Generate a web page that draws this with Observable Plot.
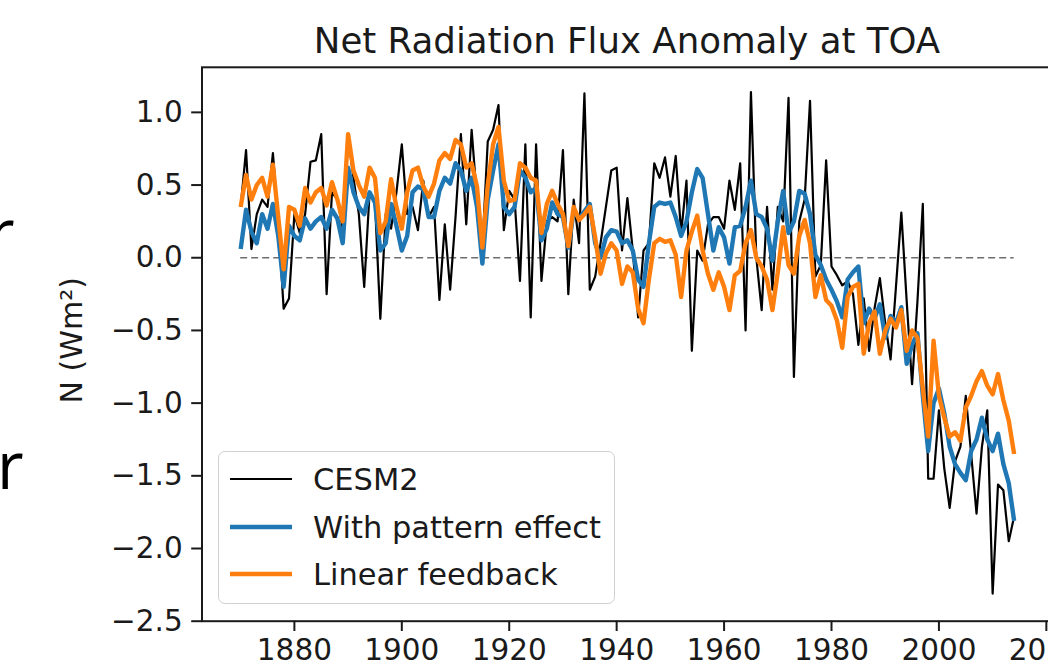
<!DOCTYPE html>
<html>
<head>
<meta charset="utf-8">
<script src="https://cdn.jsdelivr.net/npm/d3@7"></script>
<script src="https://cdn.jsdelivr.net/npm/@observablehq/plot@0.6"></script>
<style>
html, body { margin: 0; padding: 0; background: #fff; overflow: hidden; }
#wrap { position: relative; width: 1048px; height: 666px; overflow: hidden; font-family: "DejaVu Sans", sans-serif; }
#title { position: absolute; left: 227px; width: 800px; top: 23px; text-align: center; font-size: 35.6px; line-height: 35px; color: #1a1a1a; white-space: nowrap; }
#legend { position: absolute; left: 218px; top: 451px; width: 395px; height: 151px; border: 1.5px solid #d0d0d0; border-radius: 7px; background: rgba(255,255,255,0.85); }
.row { position: absolute; left: 0; height: 40px; display: flex; align-items: center; }
.row svg { margin-left: 10px; }
.row span { margin-left: 20px; font-size: 30.5px; color: #1a1a1a; white-space: nowrap; }
.frag { position: absolute; font-family: "Open Sans", sans-serif; font-size: 65px; line-height: 65px; color: #000; }
</style>
</head>
<body>
<div id="wrap">
  <div class="frag" style="left:-12px; top:199px;">r</div>
  <div class="frag" style="left:-3px; top:432px;">r</div>
  <div id="title"></div>
  <div id="chart"></div>
  <div id="legend"></div>
</div>
<script>
// ---- data (annual values 1870–2014) ----
const startYear = 1870;
const cesm2 = [
  0.35, 0.74, 0.06, 0.30, 0.40, 0.35, 0.72, 0.25, -0.35, -0.28,
  0.30, 0.17, 0.30, 0.66, 0.67, 0.85, -0.25, 0.45, 0.40, 0.20,
  0.83, 0.55, 0.30, -0.20, 0.45, 0.38, -0.42, 0.30, 0.20, 0.45,
  0.78, 0.30, 0.35, 0.19, 0.53, 0.28, 0.35, -0.29, 0.23, -0.22,
  0.28, 0.85, 0.23, 0.88, 0.40, 0.07, 0.80, 0.88, 1.05, 0.19,
  0.46, 0.40, -0.16, 0.78, -0.41, 0.78, -0.16, 0.25, 0.28, 0.25,
  0.74, -0.25, 0.40, 0.10, 1.13, -0.22, -0.13, 0.10, 0.35, 0.60,
  0.62, 0.05, 0.41, 0.05, -0.41, 0.05, 0.10, 0.65, 0.55, 0.69,
  0.42, 0.70, 0.17, 0.53, -0.64, 0.05, -0.02, 0.23, 0.28, 0.28,
  0.20, 0.53, 0.33, 0.65, -0.50, 1.14, 0.00, -0.36, 0.35, -0.22,
  0.35, 0.25, 1.10, -0.82, 0.25, 0.40, 1.08, -0.13, -0.05, 0.67,
  -0.06, -0.12, -0.19, -0.16, -0.25, -0.60, -0.28, -0.64, -0.35, -0.14,
  -0.45, -0.70, -0.20, 0.31, -0.30, -0.87, -0.30, 0.37, -1.52, -1.52,
  -1.05, -1.45, -1.72, -1.40, -1.30, -0.95, -1.35, -1.76, -1.30, -1.05,
  -2.31, -1.56, -1.60, -1.95, -1.78
];
const withPatternEffect = [
  0.06, 0.33, 0.18, 0.10, 0.30, 0.20, 0.37, 0.15, -0.20, 0.22,
  0.15, 0.12, 0.27, 0.20, 0.25, 0.28, 0.20, 0.33, 0.27, 0.10,
  0.62, 0.45, 0.35, 0.30, 0.45, 0.38, 0.05, 0.10, 0.37, 0.22,
  0.05, 0.15, 0.45, 0.49, 0.47, 0.28, 0.28, 0.46, 0.55, 0.51,
  0.65, 0.60, 0.46, 0.55, 0.35, -0.04, 0.40, 0.60, 0.78, 0.35,
  0.30, 0.35, 0.60, 0.55, 0.45, 0.48, 0.12, 0.20, 0.38, 0.30,
  0.28, 0.07, 0.32, 0.27, 0.32, 0.37, 0.10, 0.00, 0.14, 0.19,
  0.18, 0.10, 0.12, 0.05, -0.15, -0.20, 0.10, 0.35, 0.38, 0.37,
  0.38, 0.28, 0.15, 0.25, 0.45, 0.61, 0.55, 0.30, 0.05, 0.21,
  0.14, -0.04, 0.21, 0.22, 0.35, 0.53, 0.30, 0.28, 0.20, -0.02,
  0.25, 0.46, 0.17, 0.25, 0.46, 0.44, 0.30, 0.02, -0.05, -0.15,
  -0.22, -0.30, -0.41, -0.15, -0.10, -0.06, -0.45, -0.35, -0.42, -0.32,
  -0.55, -0.40, -0.45, -0.34, -0.73, -0.60, -0.52, -0.95, -1.33, -1.00,
  -0.90, -1.07, -1.30, -1.42, -1.48, -1.53, -1.33, -1.25, -1.10, -1.25,
  -1.33, -1.21, -1.42, -1.55, -1.81
];
const linearFeedback = [
  0.35, 0.57, 0.40, 0.50, 0.55, 0.42, 0.64, 0.28, -0.08, 0.35,
  0.33, 0.22, 0.48, 0.38, 0.45, 0.48, 0.36, 0.52, 0.40, 0.25,
  0.85, 0.60, 0.50, 0.42, 0.62, 0.55, 0.17, 0.25, 0.54, 0.35,
  0.20, 0.45, 0.60, 0.62, 0.49, 0.42, 0.51, 0.67, 0.72, 0.68,
  0.81, 0.78, 0.62, 0.65, 0.49, 0.07, 0.50, 0.78, 0.90, 0.53,
  0.39, 0.40, 0.65, 0.62, 0.55, 0.53, 0.17, 0.37, 0.46, 0.37,
  0.30, 0.08, 0.35, 0.26, 0.30, 0.35, 0.14, -0.11, 0.03, 0.10,
  0.05, -0.18, -0.06, -0.10, -0.35, -0.45, -0.15, 0.10, 0.13, 0.11,
  0.12, 0.02, -0.27, 0.05, 0.18, 0.29, 0.05, -0.11, -0.22, -0.10,
  -0.20, -0.36, -0.12, -0.09, 0.10, 0.19, 0.00, -0.06, -0.15, -0.36,
  -0.10, 0.21, -0.05, -0.11, 0.15, 0.26, 0.10, -0.27, -0.12, -0.29,
  -0.33, -0.43, -0.62, -0.27, -0.20, -0.18, -0.66, -0.45, -0.37, -0.66,
  -0.50, -0.42, -0.48, -0.36, -0.64, -0.50, -0.55, -0.90, -1.23, -0.57,
  -0.95, -1.10, -1.23, -1.20, -1.26, -1.03, -0.95, -0.85, -0.78, -0.88,
  -0.94, -0.80, -0.98, -1.12, -1.35
];
const seriesNames = ["CESM2", "With pattern effect", "Linear feedback"];
const seriesColors = ["#000000", "#1f77b4", "#ff7f0e"];
const seriesWidths = [2.2, 4.4, 4.4];
const xTicks = [1880, 1900, 1920, 1940, 1960, 1980, 2000, 2020];
const yTicks = [-2.5, -2.0, -1.5, -1.0, -0.5, 0.0, 0.5, 1.0];
const titleText = "Net Radiation Flux Anomaly at TOA";
const yLabel = "N (Wm²)";

// ---- build ----
const allSeries = [cesm2, withPatternEffect, linearFeedback];
const years = cesm2.map((_, i) => startYear + i);
const rowsFor = (k) => allSeries[k].map((v, i) => ({year: years[i], value: v, series: seriesNames[k]}));

const lineMark = (k) => Plot.line(rowsFor(k), {
  x: "year", y: "value", stroke: seriesColors[k], strokeWidth: seriesWidths[k],
  strokeLinejoin: "round", strokeLinecap: "butt"
});

const chart = Plot.plot({
  width: 1048,
  height: 666,
  marginLeft: 201.5,
  marginRight: -4.3,
  marginTop: 66.8,
  marginBottom: 45.3,
  style: {fontFamily: "DejaVu Sans, sans-serif", color: "#1a1a1a", background: "transparent", overflow: "visible"},
  x: {domain: [1862.8, 2021.2]},
  y: {domain: [-2.5, 1.31]},
  marks: [
    Plot.ruleY([0], {x1: years[0], x2: years[years.length - 1], stroke: "#6e6e6e", strokeWidth: 1.5, strokeDasharray: "7,4"}),
    lineMark(0),
    lineMark(1),
    lineMark(2),
    Plot.frame({stroke: "#1a1a1a", strokeWidth: 2}),
    Plot.axisX(xTicks, {tickSize: 10.3, tickPadding: 8, strokeWidth: 2, fontSize: 29.5, tickFormat: d => String(d), label: null}),
    Plot.axisY(yTicks, {tickSize: 10.3, tickPadding: 9, strokeWidth: 2, fontSize: 29.5, tickFormat: d3.format(".1f"), label: null}),
    Plot.text([yLabel], {frameAnchor: "left", textAnchor: "middle", lineAnchor: "middle", rotate: -90, dx: -130, dy: -4, fontSize: 30, fill: "#1a1a1a"})
  ]
});
document.getElementById("chart").appendChild(chart);
document.getElementById("title").textContent = titleText;

// legend (HTML overlay)
const legend = document.getElementById("legend");
const rowTops = [7, 55, 102];
seriesNames.forEach((name, k) => {
  const row = document.createElement("div");
  row.className = "row";
  row.style.top = rowTops[k] + "px";
  row.innerHTML = `<svg width="64" height="12"><line x1="1" x2="63" y1="6" y2="6" stroke="${seriesColors[k]}" stroke-width="${seriesWidths[k]}"/></svg><span>${name}</span>`;
  legend.appendChild(row);
});
</script>
</body>
</html>
